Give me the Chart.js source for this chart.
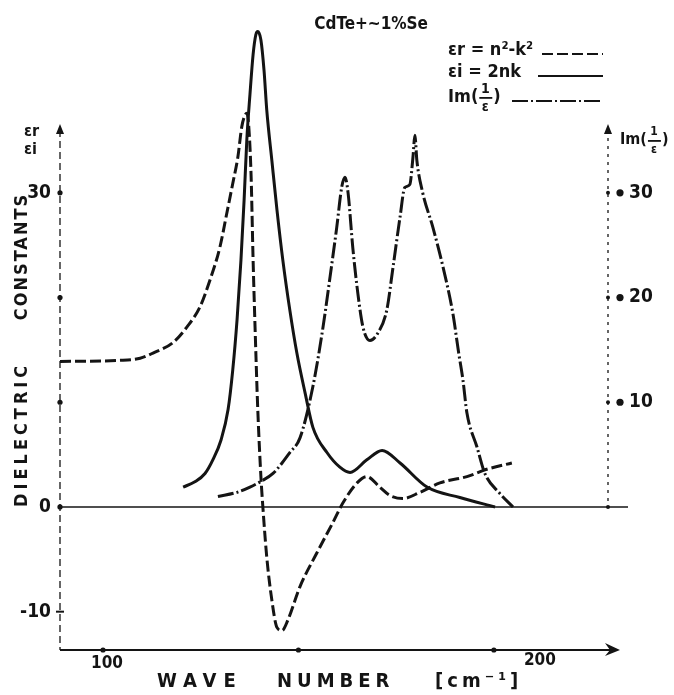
<!DOCTYPE html>
<html>
<head>
<meta charset="utf-8">
<script src="https://cdn.jsdelivr.net/npm/chart.js@4.4.0/dist/chart.umd.min.js"></script>
<style>
  body { margin: 0; background: #fff; }
</style>
</head>
<body>
<canvas id="dielectricChart" width="674" height="695"></canvas>
<script>
// Values: wave number [cm-1] and value of each curve
const erWave = [89, 104.3, 109.5, 112.8, 117.9, 121.5, 124.8, 127.4, 129.9, 131.7, 133.2, 134.5, 135.5, 136.3, 136.8,
  137.3, 137.9, 138.4, 138.9, 139.6, 140.4, 140.9, 141.9, 143.2, 144.5, 145.8, 147.3, 150.4, 154.7, 158.8,
  161.4, 165.0, 167.5, 170.8, 173.4, 176.7, 181.1, 186.2, 193.1, 198.2, 204.6];
const erValue = [13.9, 14.0, 14.2, 14.7, 15.7, 17.2, 19.1, 21.7, 24.8, 28.1, 30.9, 33.4, 36.3, 37.4, 37.6,
  36.3, 31.5, 23.6, 17.2, 9.3, 2.9, 0, -4.8, -8.9, -11.5, -11.8, -10.8, -7.6, -4.4, -1.5,
  0.4, 2.3, 2.9, 1.9, 1.1, 0.8, 1.4, 2.3, 2.9, 3.6, 4.2];

const eiWave = [120.5, 123.5, 126.1, 128.1, 130.2, 132.0, 133.2, 134.3, 135.3, 136.1, 136.8, 137.6, 138.4, 139.1,
  139.6, 140.4, 141.2, 141.9, 143.2, 144.5, 146.0, 147.8, 149.6, 151.7, 153.7, 157.3, 160.6, 163.2,
  167.5, 171.4, 176.0, 182.9, 191.3, 200.3];
const eiValue = [1.9, 2.4, 3.2, 4.5, 6.4, 9.3, 13.1, 17.9, 23.6, 29.3, 35.1, 39.4, 43.2, 45.1,
  45.4, 44.6, 41.7, 37.9, 33.1, 28.4, 23.6, 18.8, 14.7, 10.9, 7.6, 5.2, 3.8, 3.3,
  4.5, 5.4, 4.2, 1.9, 0.9, 0];

const imWave = [129.4, 134.3, 137.6, 140.2, 143.5, 147.8, 150.4, 153.7, 156.3, 158.1, 159.8, 161.1, 161.9, 162.7,
  163.9, 165.2, 166.5, 168.3, 170.3, 172.6, 174.2, 176.0, 177.2, 178.5, 179.3, 179.8, 180.3, 181.8,
  184.4, 187.0, 189.5, 191.0, 192.1, 193.1, 195.7, 197.7, 201.5, 204.9];
const imValue = [1.0, 1.4, 1.9, 2.4, 3.2, 5.2, 6.6, 11.5, 17.2, 22.0, 26.7, 30.6, 31.5, 30.0,
  24.8, 20.4, 17.2, 15.9, 16.6, 18.8, 22.9, 27.7, 30.5, 30.8, 33.4, 35.5, 33.1, 30.0,
  26.7, 22.9, 18.5, 14.7, 12.1, 9.0, 5.7, 3.2, 1.3, 0];

// axes
const xTicks = [100, 150, 200];
const xLabels = ['100', '', '200'];
const leftTicks = [30, 20, 10, 0, -10];
const leftLabels = ['30', '', '', '0', '-10'];
const rightTicks = [30, 20, 10];
const rightLabels = ['30', '20', '10'];
const axisTopValue = 36;

const INK = '#141414';
const FAMILY = '"DejaVu Sans Condensed", "DejaVu Sans", sans-serif';
const boldFont = size => 'bold ' + size + 'px ' + FAMILY;

const toPoints = (xs, ys) => xs.map((v, i) => ({ x: v, y: ys[i] }));

function dot(ctx, px, py, r) {
  ctx.beginPath();
  ctx.arc(px, py, r, 0, Math.PI * 2);
  ctx.fill();
}

function upArrow(ctx, px, py) {
  ctx.beginPath();
  ctx.moveTo(px, py - 6);
  ctx.lineTo(px + 4, py + 4);
  ctx.lineTo(px - 4, py + 4);
  ctx.closePath();
  ctx.fill();
}

// draws "Im(1/ε)" with a small fraction, left edge at px
function drawImLabel(ctx, px, py, size) {
  ctx.textAlign = 'left';
  ctx.textBaseline = 'middle';
  ctx.font = boldFont(size);
  ctx.fillText('Im(', px, py);
  const fx = px + ctx.measureText('Im(').width + 1;
  ctx.font = boldFont(size - 4);
  ctx.textAlign = 'center';
  ctx.fillText('1', fx + 6, py - 8);
  ctx.fillText('ε', fx + 6, py + 10);
  ctx.fillRect(fx, py, 13, 1.8);
  ctx.font = boldFont(size);
  ctx.textAlign = 'left';
  ctx.fillText(')', fx + 14, py);
}

const axisDecor = {
  id: 'axisDecor',
  beforeDatasetsDraw(chart) {
    const { ctx, scales } = chart;
    const x = scales.x, y = scales.y, y2 = scales.y2;
    const zeroY = y.getPixelForValue(0);
    const topY = y.getPixelForValue(axisTopValue);
    ctx.save();
    ctx.strokeStyle = INK;
    ctx.fillStyle = INK;

    // zero line
    ctx.lineWidth = 1.6;
    ctx.beginPath();
    ctx.moveTo(x.left, zeroY);
    ctx.lineTo(x.right + 20, zeroY);
    ctx.stroke();

    // wave number axis with arrow head
    ctx.lineWidth = 2;
    ctx.beginPath();
    ctx.moveTo(x.left, y.bottom);
    ctx.lineTo(x.right + 8, y.bottom);
    ctx.stroke();
    const tip = x.right + 12;
    ctx.beginPath();
    ctx.moveTo(tip - 15, y.bottom - 7);
    ctx.lineTo(tip, y.bottom);
    ctx.lineTo(tip - 15, y.bottom + 6);
    ctx.lineTo(tip - 10, y.bottom);
    ctx.closePath();
    ctx.fill();
    xTicks.forEach(v => dot(ctx, x.getPixelForValue(v), y.bottom, 2.6));

    // left axis (dashed) and right axis (dotted)
    ctx.lineWidth = 1.3;
    ctx.setLineDash([7, 4]);
    ctx.beginPath();
    ctx.moveTo(x.left, topY);
    ctx.lineTo(x.left, y.bottom);
    ctx.stroke();
    ctx.setLineDash([3, 5]);
    ctx.beginPath();
    ctx.moveTo(x.right, topY);
    ctx.lineTo(x.right, zeroY);
    ctx.stroke();
    ctx.setLineDash([]);

    leftTicks.forEach(v => {
      const py = y.getPixelForValue(v);
      if (v === -10) {
        ctx.lineWidth = 2;
        ctx.beginPath();
        ctx.moveTo(x.left - 4, py);
        ctx.lineTo(x.left + 4, py);
        ctx.stroke();
      } else {
        dot(ctx, x.left, py, 2.6);
      }
    });
    rightTicks.forEach(v => {
      const py = y2.getPixelForValue(v);
      dot(ctx, x.right, py, 2);
      dot(ctx, x.right + 12, py, 3.6);
    });
    dot(ctx, x.right, zeroY, 2);

    upArrow(ctx, x.left, topY);
    upArrow(ctx, x.right, topY);
    ctx.restore();
  },
  afterDraw(chart) {
    const { ctx, scales } = chart;
    const x = scales.x, y = scales.y;
    const sets = chart.data.datasets;
    const topY = y.getPixelForValue(axisTopValue);
    ctx.save();
    ctx.fillStyle = INK;
    ctx.strokeStyle = INK;

    // title
    ctx.font = boldFont(17);
    ctx.textAlign = 'right';
    ctx.textBaseline = 'middle';
    ctx.fillText('CdTe+~1%Se', 428, 25);

    // legend: label then a sample of the line
    const rows = [
      { text: 'εr = n²-k²', y: 50, from: 542, set: 0 },
      { text: 'εi = 2nk', y: 72, from: 538, set: 1 },
      { text: null, y: 97, from: 512, set: 2 }
    ];
    rows.forEach(r => {
      ctx.textAlign = 'left';
      ctx.font = boldFont(18);
      if (r.text) ctx.fillText(r.text, 448, r.y);
      else drawImLabel(ctx, 448, r.y, 18);
      ctx.lineWidth = 2.2;
      ctx.setLineDash(sets[r.set].borderDash || []);
      ctx.beginPath();
      ctx.moveTo(r.from, r.y + 4);
      ctx.lineTo(603, r.y + 4);
      ctx.stroke();
      ctx.setLineDash([]);
    });

    // labels of the vertical axes
    ctx.font = boldFont(16);
    ctx.textAlign = 'left';
    ctx.fillText('εr', 24, topY + 2);
    ctx.fillText('εi', 24, topY + 20);
    drawImLabel(ctx, x.right + 12, topY + 10, 16);

    // wave number tick labels
    ctx.font = boldFont(17);
    ctx.textAlign = 'center';
    ctx.fillText(xLabels[0], x.getPixelForValue(xTicks[0]) + 4, y.bottom + 14);
    ctx.fillText(xLabels[2], x.getPixelForValue(xTicks[2]) + 46, y.bottom + 11);

    // axis titles
    ctx.font = boldFont(20);
    ctx.textAlign = 'left';
    ctx.textBaseline = 'middle';
    ctx.letterSpacing = '7px';
    ctx.fillText('WAVE', 157, 682);
    ctx.letterSpacing = '5px';
    ctx.fillText('NUMBER', 277, 682);
    ctx.letterSpacing = '4px';
    ctx.fillText('[cm⁻¹]', 435, 682);

    ctx.font = boldFont(18);
    ctx.translate(22, 0);
    ctx.rotate(-Math.PI / 2);
    ctx.letterSpacing = '4px';
    ctx.textAlign = 'left';
    ctx.fillText('DIELECTRIC', -y.getPixelForValue(0), 0);
    ctx.letterSpacing = '2px';
    ctx.textAlign = 'right';
    ctx.fillText('CONSTANTS', -y.getPixelForValue(30), 0);
    ctx.restore();
  }
};

const tickFont = { family: FAMILY, weight: 'bold', size: 19 };
const lineStyle = { borderColor: INK, borderWidth: 3, pointRadius: 0, fill: false, cubicInterpolationMode: 'monotone' };

// keep the plot area at fixed edges: no extra room for the end labels
function fixPadding(s) {
  s.paddingTop = 0;
  s.paddingBottom = 0;
  s.paddingLeft = 0;
  s.paddingRight = 0;
}

new Chart(document.getElementById('dielectricChart'), {
  type: 'line',
  data: {
    datasets: [
      Object.assign({ label: 'εr = n²-k²', data: toPoints(erWave, erValue), borderDash: [11, 4] }, lineStyle),
      Object.assign({ label: 'εi = 2nk', data: toPoints(eiWave, eiValue) }, lineStyle),
      Object.assign({ label: 'Im(1/ε)', data: toPoints(imWave, imValue), yAxisID: 'y2', borderDash: [16, 3, 2, 3] }, lineStyle)
    ]
  },
  options: {
    responsive: false,
    animation: false,
    layout: { padding: { top: 5 } },
    plugins: {
      legend: { display: false },
      tooltip: { enabled: false }
    },
    scales: {
      x: {
        type: 'linear',
        min: 89,
        max: 229.2,
        grid: { display: false, drawTicks: false },
        border: { display: false },
        ticks: { display: false },
        afterBuildTicks: s => { s.ticks = xTicks.map(v => ({ value: v })); },
        afterFit: s => { fixPadding(s); s.height = 45; }
      },
      y: {
        type: 'linear',
        position: 'left',
        min: -13.66,
        max: 47.94,
        grid: { display: false, drawTicks: false },
        border: { display: false },
        ticks: { color: INK, font: tickFont, padding: 9, autoSkip: false,
          callback: v => leftLabels[leftTicks.indexOf(v)] },
        afterBuildTicks: s => { s.ticks = leftTicks.map(v => ({ value: v })); },
        afterFit: s => { fixPadding(s); s.width = 60; }
      },
      y2: {
        type: 'linear',
        position: 'right',
        min: -13.66,
        max: 47.94,
        grid: { display: false, drawTicks: false },
        border: { display: false },
        ticks: { color: INK, font: tickFont, padding: 21, autoSkip: false,
          callback: v => rightLabels[rightTicks.indexOf(v)] },
        afterBuildTicks: s => { s.ticks = rightTicks.map(v => ({ value: v })); },
        afterFit: s => { fixPadding(s); s.width = 66; }
      }
    }
  },
  plugins: [axisDecor]
});
</script>
</body>
</html>
